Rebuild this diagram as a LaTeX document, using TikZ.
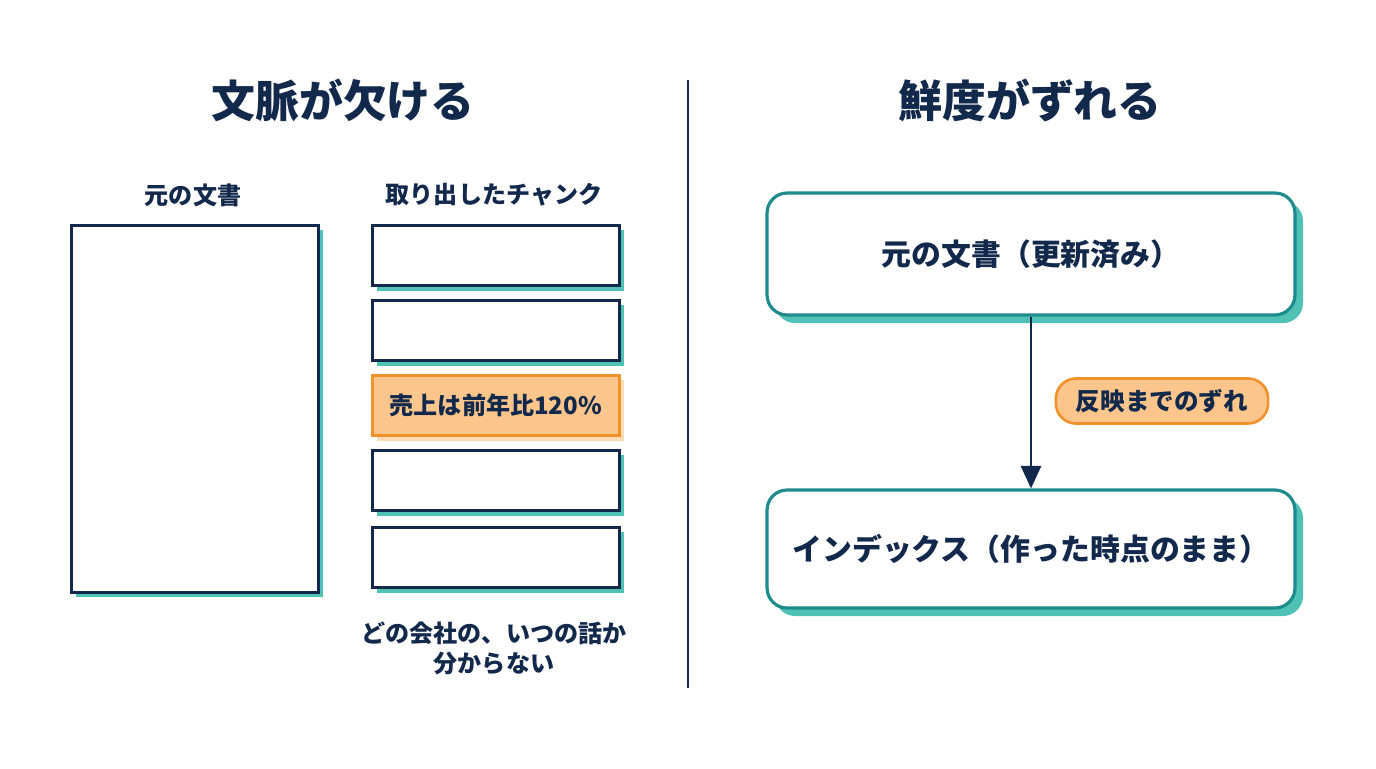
\documentclass[tikz,border=0pt]{standalone}
\usepackage{fontspec}
\setmainfont{Noto Sans CJK JP}
\usetikzlibrary{arrows.meta}
\definecolor{navy}{HTML}{13294B}
\definecolor{teal}{HTML}{1E8C8C}
\definecolor{tealshadow}{HTML}{4FC1B5}
\definecolor{orangeline}{HTML}{F0922B}
\definecolor{orangefill}{HTML}{FCC58B}
\definecolor{orangeshadow}{HTML}{FDDCB5}
\tikzset{
  title/.style={font=\fontsize{25}{30}\selectfont\bfseries, text=navy},
  caption/.style={font=\fontsize{13.7}{17}\selectfont\bfseries, text=navy},
  page/.style={draw=navy, line width=1.6pt, fill=white, inner sep=0pt, anchor=north west},
  chunk/.style={page, minimum width=4.94cm, minimum height=1.2cm, font=\fontsize{13.7}{16}\selectfont\bfseries, text=navy},
  hit/.style={chunk, draw=orangeline, fill=orangefill},
  stage/.style={draw=teal, line width=1.8pt, fill=white, rounded corners=0.4cm, minimum width=10.56cm, font=\fontsize{17}{20}\selectfont\bfseries, text=navy},
  pill/.style={draw=orangeline, line width=1.5pt, fill=orangefill, rounded corners=0.4cm, minimum height=0.9cm, inner xsep=0.4cm, font=\fontsize{14}{16}\selectfont\bfseries, text=navy},
}
\begin{document}
\begin{tikzpicture}[x=0.02cm, y=-0.02cm]
  \useasboundingbox[fill=white] (0,0) rectangle (1376,768);
  % left half
  \node[title] (lefttitle) at (343,100) {文脈が欠ける};
  \node[caption] (doclabel) at (193,195) {元の文書};
  \node[caption] (chunklabel) at (494,195) {取り出したチャンク};
  \fill[tealshadow] (76,230) rectangle (323,597);
  \node[page, minimum width=4.94cm, minimum height=7.34cm] (doc) at (70,224) {};
  \foreach \y/\name in {224/c1, 299/c2, 449/c4, 526/c5}
    {
      \fill[tealshadow] (377,\y+6) rectangle (624,\y+67);
      \node[chunk] (\name) at (371,\y) {};
    }
  \fill[orangeshadow] (377,380) rectangle (624,441);
  \node[hit] (c3) at (371,374) {売上は前年比120\%};
  \node[caption, align=center] (lost) at (494,648) {どの会社の、いつの話か\\分からない};
  % divider
  \draw[navy, line width=1.2pt] (688,80) -- (688,688);
  % right half
  \node[title] (righttitle) at (1030,100) {鮮度がずれる};
  \fill[tealshadow, rounded corners=0.4cm] (775,201) rectangle (1303,323);
  \node[stage, minimum height=2.44cm] (source) at (1031,254) {元の文書（更新済み）};
  \fill[tealshadow, rounded corners=0.4cm] (775,498) rectangle (1303,616);
  \node[stage, minimum height=2.36cm] (index) at (1031,549) {インデックス（作った時点のまま）};
  \draw[navy, line width=1.6pt, -{Triangle[length=0.45cm, width=0.4cm]}] (source) -- (index);
  \node[pill] (lag) at (1162,401) {反映までのずれ};
\end{tikzpicture}
\end{document}
